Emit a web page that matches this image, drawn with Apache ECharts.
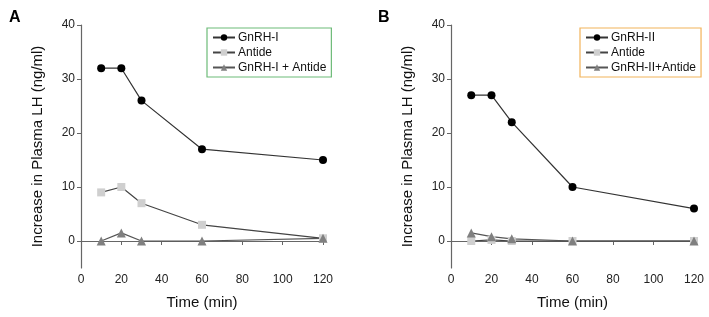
<!DOCTYPE html>
<html>
<head>
<meta charset="utf-8">
<script src="https://cdn.jsdelivr.net/npm/echarts@6/dist/echarts.min.js"></script>
<style>
  html, body { margin: 0; padding: 0; background: #fff; }
  #chart { width: 709px; height: 317px; }
</style>
</head>
<body>
<div id="chart"></div>
<script>
// time points (min)
const times = [10, 20, 30, 60, 120]
const yTicks = [0, 10, 20, 30, 40]

// panel A
const gnrh1 = [32, 32, 26, 17, 15]
const antideA = [9, 10, 7, 3, 0.5]
const gnrh1Antide = [0, 1.5, 0, 0, 0.5]

// panel B
const gnrh2 = [27, 27, 22, 10, 6]
const antideB = [0, 0.2, 0, 0, 0]
const gnrh2Antide = [1.5, 0.8, 0.4, 0, 0]

const pairs = (vals) => times.map((t, i) => [t, vals[i]])
const font = 'Liberation Sans, Arial, sans-serif'
const axisCol = '#666'

const chart = echarts.init(document.getElementById('chart'))

const xAxisCfg = (gi) => ({
  gridIndex: gi, type: 'value', min: 0, max: 120, interval: 20,
  name: 'Time (min)', nameLocation: 'middle', nameGap: 27,
  nameTextStyle: { fontSize: 15, color: '#111', fontFamily: font },
  axisLine: { lineStyle: { color: axisCol, width: 1.2 } },
  axisTick: { length: 4, lineStyle: { color: axisCol } },
  axisLabel: { fontSize: 12, color: '#222', fontFamily: font, margin: 6 },
  splitLine: { show: false }
})

const yAxisCfg = (gi) => ({
  gridIndex: gi, type: 'value', min: -5, max: 40,
  name: 'Increase in Plasma LH (ng/ml)', nameLocation: 'middle', nameGap: 36,
  nameTextStyle: { fontSize: 15, color: '#111', fontFamily: font },
  axisLine: { show: true, lineStyle: { color: axisCol, width: 1.2 } },
  axisTick: { show: true, length: 4, customValues: yTicks, lineStyle: { color: axisCol } },
  axisLabel: { fontSize: 12, color: '#222', fontFamily: font, margin: 6, customValues: yTicks },
  splitLine: { show: false }
})

const mkSeries = (name, vals, gi, symbol, color, size, lineColor) => ({
  name, type: 'line', xAxisIndex: gi, yAxisIndex: gi,
  data: pairs(vals), symbol, symbolSize: size,
  itemStyle: { color },
  lineStyle: { color: lineColor, width: 1.2 },
  emphasis: { disabled: true }
})

const legendCfg = (names, left, border) => ({
  data: names, orient: 'vertical', left, top: 28,
  borderColor: border, borderWidth: 1.2, padding: [3, 5, 3, 5],
  itemGap: 2, itemWidth: 22, itemHeight: 8,
  textStyle: { fontSize: 12, lineHeight: 13, color: '#111', fontFamily: font, padding: [0, 0, 0, -2] }
})

chart.setOption({
  animation: false,
  textStyle: { fontFamily: font },
  title: [
    { text: 'A', left: 4, top: 5, textStyle: { fontSize: 16, fontWeight: 'bold', color: '#000', fontFamily: font } },
    { text: 'B', left: 373, top: 5, textStyle: { fontSize: 16, fontWeight: 'bold', color: '#000', fontFamily: font } }
  ],
  grid: [
    { left: 81, top: 25, width: 242, height: 243 },
    { left: 451, top: 25, width: 243, height: 243 }
  ],
  xAxis: [xAxisCfg(0), xAxisCfg(1)],
  yAxis: [yAxisCfg(0), yAxisCfg(1)],
  legend: [
    legendCfg(['GnRH-I', 'Antide', 'GnRH-I + Antide'], 207, '#6dbb78'),
    legendCfg(['GnRH-II', 'Antide ', 'GnRH-II+Antide'], 580, '#f2b35a')
  ],
  series: [
    mkSeries('GnRH-I', gnrh1, 0, 'circle', '#000', 8, '#333'),
    mkSeries('Antide', antideA, 0, 'rect', '#cfcfcf', 8, '#444'),
    mkSeries('GnRH-I + Antide', gnrh1Antide, 0, 'triangle', '#808080', 9, '#555'),
    mkSeries('GnRH-II', gnrh2, 1, 'circle', '#000', 8, '#333'),
    mkSeries('Antide ', antideB, 1, 'rect', '#cfcfcf', 8, '#444'),
    mkSeries('GnRH-II+Antide', gnrh2Antide, 1, 'triangle', '#808080', 9, '#555')
  ]
})
</script>
</body>
</html>
